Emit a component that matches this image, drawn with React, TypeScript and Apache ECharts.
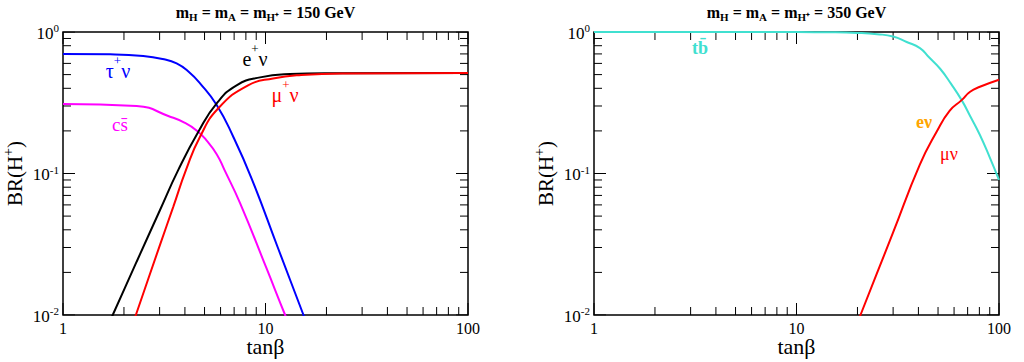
import React, { useEffect, useRef } from "react";
import * as echarts from "echarts";

const SERIF = "'Liberation Serif', 'Times New Roman', serif";

// ---- data (tanβ, BR) ----
// left panel: m_H = m_A = m_H+ = 150 GeV
const tauNuX = [1, 1.71, 2.49, 3.1, 3.64, 4.2, 4.75, 5.74, 6.93, 8.53, 11.5, 15.4, 17];
const tauNuY = [0.7, 0.695, 0.677, 0.645, 0.6, 0.52, 0.434, 0.305, 0.182, 0.0925, 0.03, 0.01, 0.0069];

const csX = [1, 2.31, 3.38, 4.0, 4.6, 5.1, 5.74, 6.27, 7.48, 10.1, 12.5, 14];
const csY = [0.31, 0.3, 0.252, 0.228, 0.2, 0.172, 0.137, 0.106, 0.062, 0.0215, 0.01, 0.0068];

const eNuX = [1.6, 1.76, 2.31, 3.01, 3.71, 4.66, 5.74, 7.2, 9.4, 13.2, 20, 100];
const eNuY = [0.0074, 0.01, 0.0238, 0.055, 0.106, 0.197, 0.313, 0.42, 0.478, 0.505, 0.512, 0.513];

const muNuX = [2.1, 2.29, 3.01, 3.51, 4.05, 4.75, 5.85, 8.2, 10.9, 15, 25, 100];
const muNuY = [0.007, 0.01, 0.0312, 0.0586, 0.106, 0.182, 0.289, 0.42, 0.47, 0.497, 0.51, 0.513];

// right panel: m_H = m_A = m_H+ = 350 GeV
const tbX = [1, 10, 15, 20, 25, 30, 35, 40.7, 45, 51.2, 58, 65.4, 72, 80.5, 90, 100];
const tbY = [1, 0.998, 0.995, 0.985, 0.965, 0.93, 0.85, 0.77, 0.665, 0.55, 0.43, 0.33, 0.255, 0.187, 0.13, 0.09];

const muNuRX = [19, 20.7, 30, 40.6, 49.2, 57, 65.4, 72, 80.5, 100];
const muNuRY = [0.0073, 0.01, 0.0383, 0.115, 0.197, 0.277, 0.33, 0.378, 0.41, 0.46];

const titles = ["150", "350"];
const majorX = [1, 10, 100];
const majorY = [0.01, 0.1, 1];
const minorMults = [2, 3, 4, 5, 6, 7, 8, 9];
const xDecades = [1, 10];
const yDecades = [0.01, 0.1];

const pairs = (xs: number[], ys: number[]) => xs.map((x, i) => [x, ys[i]]);

// plot frame size in pixels per decade (405 px for 2 decades across, 283 px for 2 decades up)
const PX_PER_DEC_X = 405 / 2;
const PX_PER_DEC_Y = 283 / 2;

// inward tick segments, expressed in data units so the axes place them
function tickSegments(): any[] {
  const pts: any[] = [];
  const xTick = (v: number, len: number) => {
    const f = Math.pow(10, len / PX_PER_DEC_Y);
    pts.push([v, 0.01], [v, 0.01 * f], [v, "-"]);
    pts.push([v, 1], [v, 1 / f], [v, "-"]);
  };
  const yTick = (v: number, len: number) => {
    const f = Math.pow(10, len / PX_PER_DEC_X);
    pts.push([1, v], [f, v], ["-", v]);
    pts.push([100, v], [100 / f, v], ["-", v]);
  };
  majorX.forEach((v) => xTick(v, 12));
  majorY.forEach((v) => yTick(v, 12));
  xDecades.forEach((d) => minorMults.forEach((m) => xTick(d * m, 8)));
  yDecades.forEach((d) => minorMults.forEach((m) => yTick(d * m, 8)));
  return pts;
}

export default function App() {
  const ref = useRef<HTMLDivElement>(null);
  useEffect(() => {
    const chart = echarts.init(ref.current!, null, { renderer: "svg" });

    const xAxisFor = (gi: number, pos: "bottom" | "top") => ({
      gridIndex: gi,
      type: "log",
      logBase: 10,
      min: 1,
      max: 100,
      position: pos,
      axisLine: { show: false },
      axisTick: { show: false },
      splitLine: { show: false },
      axisLabel:
        pos === "bottom"
          ? {
              show: true,
              color: "#000",
              fontFamily: SERIF,
              fontSize: 16,
              margin: 5,
              formatter: (v: number) => String(Math.round(v)),
            }
          : { show: false },
      name: pos === "bottom" ? "tanβ" : "",
      nameLocation: "middle",
      nameGap: 20,
      nameMoveOverlap: false,
      nameTextStyle: { color: "#000", fontFamily: SERIF, fontSize: 22, lineHeight: 22 },
    });

    const yAxisFor = (gi: number, pos: "left" | "right") => ({
      gridIndex: gi,
      type: "log",
      logBase: 10,
      min: 0.01,
      max: 1,
      position: pos,
      axisLine: { show: false },
      axisTick: { show: false },
      splitLine: { show: false },
      axisLabel:
        pos === "left"
          ? {
              show: true,
              color: "#000",
              fontFamily: SERIF,
              margin: 4,
              formatter: (v: number) => `{b|10}{s|${Math.round(Math.log10(v))}}`,
              rich: {
                b: { fontFamily: SERIF, fontSize: 17, color: "#000", verticalAlign: "bottom" },
                s: { fontFamily: SERIF, fontSize: 11, color: "#000", verticalAlign: "top", padding: [0, 0, 8, 0] },
              },
            }
          : { show: false },
      name: pos === "left" ? "{b|BR(H}{s|+}{b|)}" : "",
      nameLocation: "middle",
      nameRotate: 90,
      nameGap: 38,
      nameTextStyle: {
        color: "#000",
        fontFamily: SERIF,
        fontSize: 21,
        rich: {
          b: { fontFamily: SERIF, fontSize: 21, color: "#000", verticalAlign: "bottom" },
          s: { fontFamily: SERIF, fontSize: 14, color: "#000", verticalAlign: "top", padding: [0, 0, 10, 0] },
        },
      },
    });

    const line = (name: string, data: any[], color: string, gi: number, width = 2, smooth: number | false = 0.5) => ({
      name,
      type: "line",
      xAxisIndex: gi * 2,
      yAxisIndex: gi * 2,
      data,
      smooth,
      connectNulls: false,
      showSymbol: false,
      symbol: "none",
      clip: true,
      lineStyle: { color, width },
      silent: true,
    });

    const label = (x: number, y: number, text: string, color: string, size: number, bold = false) => ({
      type: "text",
      x,
      y,
      style: {
        text,
        align: "center",
        verticalAlign: "middle",
        textAlign: "center",
        textVerticalAlign: "middle",
        rich: {
          b: { fontFamily: SERIF, fontSize: size, fontWeight: bold ? "bold" : "normal", fill: color, verticalAlign: "bottom" },
          s: { fontFamily: SERIF, fontSize: 13, fill: color, verticalAlign: "top", padding: [0, 0, 14, 0] },
        },
      },
    });

    const title = (cx: number, mass: string) => ({
      type: "text",
      x: cx,
      y: 13,
      style: {
        text: `{m|m}{u|H}{m| = m}{u|A}{m| = m}{u|H⁺}{m| = ${mass} GeV}`,
        align: "center",
        verticalAlign: "middle",
        textAlign: "center",
        textVerticalAlign: "middle",
        rich: {
          m: { fontFamily: SERIF, fontSize: 16, fontWeight: "bold", fill: "#000", verticalAlign: "top" },
          u: { fontFamily: SERIF, fontSize: 11, fontWeight: "bold", fill: "#000", verticalAlign: "bottom", padding: [7, 0, 0, 0] },
        },
      },
    });

    const ticks = tickSegments();

    chart.setOption({
      animation: false,
      grid: [
        { left: 63, right: 556, top: 32, bottom: 47 },
        { left: 594, right: 25, top: 32, bottom: 47 },
      ].map((g) => ({
        ...g,
        show: true,
        borderColor: "#000",
        borderWidth: 1.5,
        containLabel: false,
        outerBoundsMode: "none",
      })),
      xAxis: [xAxisFor(0, "bottom"), xAxisFor(0, "top"), xAxisFor(1, "bottom"), xAxisFor(1, "top")],
      yAxis: [yAxisFor(0, "left"), yAxisFor(0, "right"), yAxisFor(1, "left"), yAxisFor(1, "right")],
      series: [
        line("ticks left", ticks, "#000000", 0, 1, false),
        line("ticks right", ticks, "#000000", 1, 1, false),
        line("τν", pairs(tauNuX, tauNuY), "#0000ff", 0),
        line("cs", pairs(csX, csY), "#ff00ff", 0),
        line("eν", pairs(eNuX, eNuY), "#000000", 0),
        line("μν", pairs(muNuX, muNuY), "#ff0000", 0),
        line("tb", pairs(tbX, tbY), "#40e0d0", 1),
        line("μν 350", pairs(muNuRX, muNuRY), "#ff0000", 1),
      ],
      graphic: [
        title(265.5, titles[0]),
        title(796.5, titles[1]),
        label(118, 67, "{b|τ}{s|+}{b|ν}", "#0000ff", 20),
        label(255, 55, "{b|e}{s|+}{b|ν}", "#000000", 20),
        label(285, 91, "{b|μ}{s|+}{b|ν}", "#ff0000", 20),
        label(120, 124, "{b|cs\u0304}", "#ff00ff", 19),
        label(700, 48, "{b|tb\u0304}", "#40e0d0", 18, true),
        label(924, 122, "{b|eν}", "#ffa500", 18, true),
        label(949, 154, "{b|μν}", "#ff0000", 18),
      ],
    });

    return () => chart.dispose();
  }, []);

  return <div ref={ref} style={{ position: "absolute", left: 0, top: 0, width: 1024, height: 362 }} />;
}
